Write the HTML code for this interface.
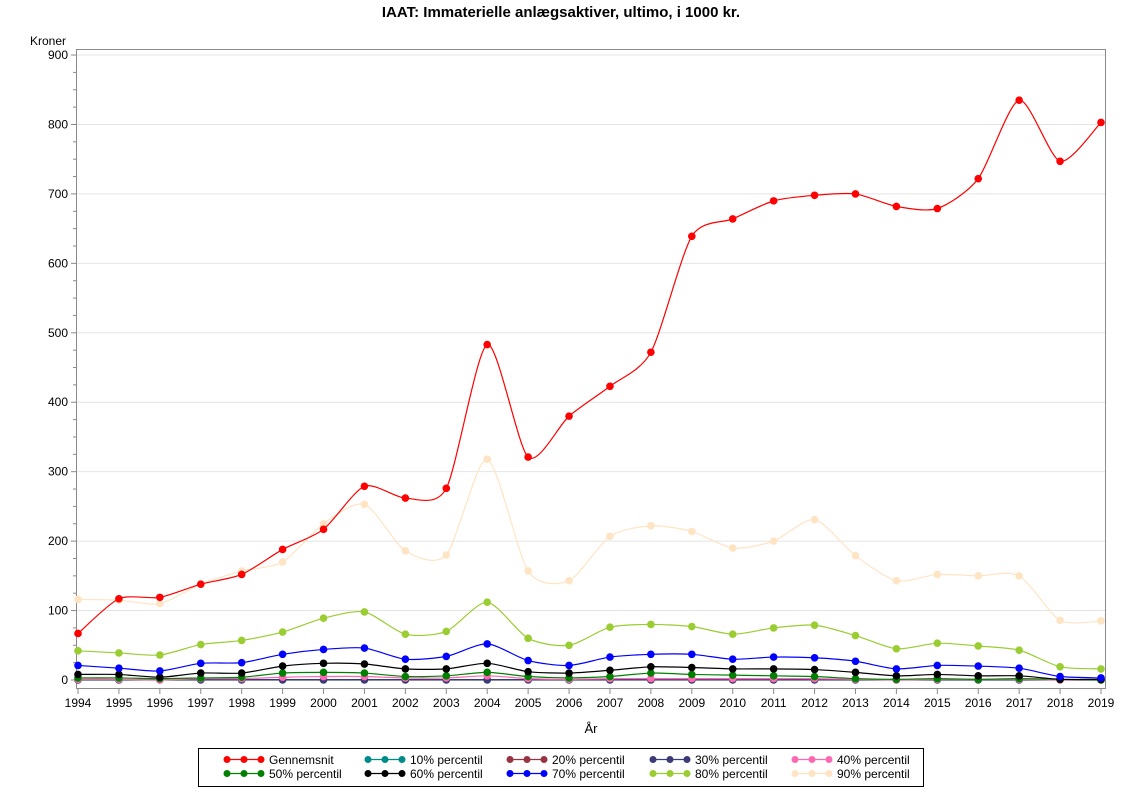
<!DOCTYPE html>
<html><head><meta charset="utf-8"><style>
body{margin:0;background:#fff;}
svg{display:block;font-family:"Liberation Sans",Arial,sans-serif;}
</style></head><body>
<svg id="s" width="1122" height="793" viewBox="0 0 1122 793">
<rect width="1122" height="793" fill="#fff"/>
<text x="561" y="17" text-anchor="middle" font-size="15" font-weight="bold">IAAT: Immaterielle anlægsaktiver, ultimo, i 1000 kr.</text>
<text x="30" y="45" font-size="12">Kroner</text>
<g id="grid"></g>
<rect x="76.5" y="49.5" width="1029" height="639" fill="none" stroke="#8a8a8a"/>
<g id="ax" font-size="12"></g>
<g id="series"></g>
<text x="591" y="733" text-anchor="middle" font-size="13">År</text>
<rect x="198.5" y="748.5" width="725" height="38" fill="none" stroke="#000"/>
<g id="leg" font-size="12"></g>
</svg>
<script>
const NS="http://www.w3.org/2000/svg";
function el(p,t,a,txt){const e=document.createElementNS(NS,t);for(const k in a)e.setAttribute(k,a[k]);if(txt!==undefined)e.textContent=txt;p.appendChild(e);return e;}
const X=y=>78+(y-1994)*40.92, Y=v=>680-v*0.6944;
const grid=document.getElementById('grid'),ax=document.getElementById('ax');
for(let v=0;v<=900;v+=100){const y=Y(v);if(v>0)el(grid,'line',{x1:77,x2:1105,y1:y,y2:y,stroke:'#e4e4e4'});
el(ax,'line',{x1:71,x2:76,y1:y,y2:y,stroke:'#8a8a8a'});el(ax,'text',{x:68,y:y+4,'text-anchor':'end'},v);}
for(let v=25;v<900;v+=25){if(v%100)el(ax,'line',{x1:73,x2:76,y1:Y(v),y2:Y(v),stroke:'#8a8a8a'});}
for(let yr=1994;yr<=2019;yr++){const x=X(yr);el(ax,'line',{x1:x,x2:x,y1:689,y2:694,stroke:'#8a8a8a'});el(ax,'text',{x:x,y:707,'text-anchor':'middle'},yr);}
const S=[
['#ff0000',[67,117,119,138,152,188,217,279,262,276,483,321,380,423,472,639,664,690,698,700,682,679,722,835,747,803]],
['#ffe4c4',[116,115,110,138,157,170,225,253,186,180,318,157,143,207,222,214,190,200,231,179,143,152,150,150,86,85]],
['#9acd32',[42,39,36,51,57,69,89,98,66,70,112,60,50,76,80,77,66,75,79,64,45,53,49,43,19,16]],
['#0000ff',[21,17,13,24,25,37,44,46,30,34,52,28,21,33,37,37,30,33,32,27,16,21,20,17,5,3]],
['#000000',[8,8,4,10,10,20,24,23,16,16,24,12,10,14,19,18,16,16,15,11,6,8,6,6,1,1]],
['#008000',[3,3,2,3,4,10,11,10,5,6,11,5,3,5,10,8,7,6,5,2,1,2,1,2,1,0]],
['#ff69b4',[1,1,0,2,2,4,5,5,3,3,6,2,1,2,2,2,2,2,2,1,0,1,1,1,0,0]],
['#3b3b7a',Array(26).fill(0.5)],
['#993344',Array(26).fill(0.3)],
['#008b8b',Array(26).fill(0)]
];
const g=document.getElementById('series');const T=8;
for(let i=S.length-1;i>=0;i--){const [c,d]=S[i];const P=d.map((v,k)=>[X(1994+k),Y(v)]);
let p='M'+P[0][0]+','+P[0][1];
for(let k=0;k<P.length-1;k++){const p0=P[k-1]||P[k],p1=P[k],p2=P[k+1],p3=P[k+2]||p2;
p+=` C${p1[0]+(p2[0]-p0[0])/T},${p1[1]+(p2[1]-p0[1])/T} ${p2[0]-(p3[0]-p1[0])/T},${p2[1]-(p3[1]-p1[1])/T} ${p2[0]},${p2[1]}`;}
el(g,'path',{d:p,fill:'none',stroke:c,'stroke-width':1.2});
P.forEach(q=>el(g,'circle',{cx:q[0],cy:q[1],r:3.8,fill:c}));}
const L=[['#ff0000','Gennemsnit'],['#008b8b','10% percentil'],['#993344','20% percentil'],['#3b3b7a','30% percentil'],['#ff69b4','40% percentil'],
['#008000','50% percentil'],['#000000','60% percentil'],['#0000ff','70% percentil'],['#9acd32','80% percentil'],['#ffe4c4','90% percentil']];
const leg=document.getElementById('leg');const cx=[227,368,510,653,795];
L.forEach((l,i)=>{const x=cx[i%5],y=i<5?759.5:773.5;
el(leg,'line',{x1:x,x2:x+34,y1:y,y2:y,stroke:l[0],'stroke-width':1.2});
[0,17,34].forEach(o=>el(leg,'circle',{cx:x+o,cy:y,r:3.5,fill:l[0]}));
el(leg,'text',{x:x+42,y:y+4.5},l[1]);});
</script>
</body></html>
